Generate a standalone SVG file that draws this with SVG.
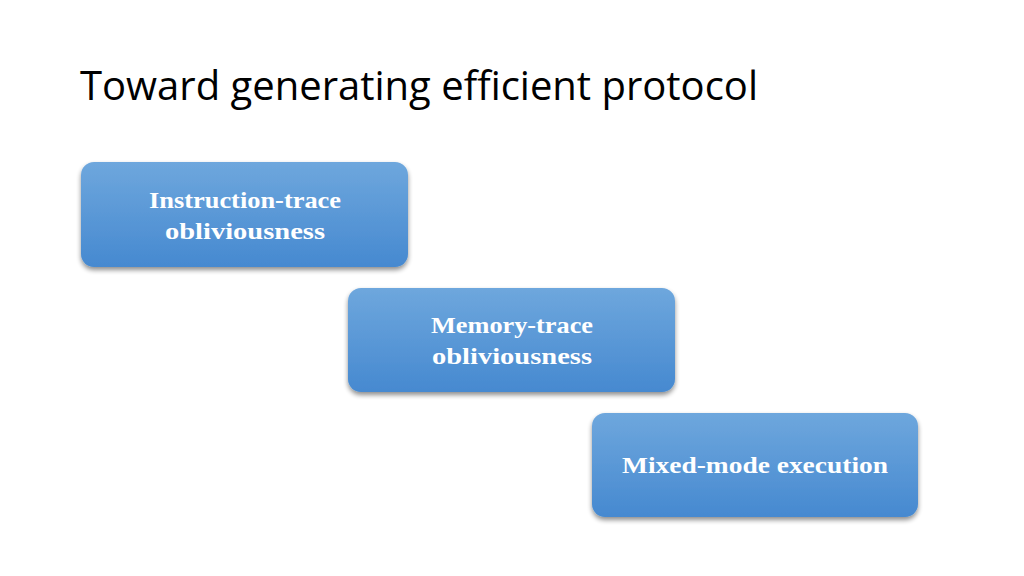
<svg xmlns="http://www.w3.org/2000/svg" width="1024" height="576" viewBox="0 0 1024 576">
<defs>
<linearGradient id="g" x1="0" y1="0" x2="0" y2="1">
<stop offset="0" stop-color="#6ea7dd"/>
<stop offset="1" stop-color="#4689d0"/>
</linearGradient>
<filter id="sh" x="-10%" y="-10%" width="120%" height="130%">
<feGaussianBlur in="SourceAlpha" stdDeviation="2.5"/>
<feOffset dx="0" dy="3" result="b"/>
<feComponentTransfer><feFuncA type="linear" slope="0.45"/></feComponentTransfer>
<feMerge><feMergeNode/><feMergeNode in="SourceGraphic"/></feMerge>
</filter>
</defs>
<style>
.box{fill:url(#g);filter:url(#sh);}
.lbl{font-family:"Liberation Serif","Times New Roman",serif;font-weight:bold;font-size:24px;fill:#ffffff;text-anchor:middle;}
.title{font-family:"Open Sans","Liberation Sans",sans-serif;font-size:40px;fill:#000000;}
</style>
<rect width="1024" height="576" fill="#ffffff"/>
<text class="title" x="80" y="100" textLength="678" lengthAdjust="spacingAndGlyphs">Toward generating efficient protocol</text>
<g id="connectors"></g>
<g id="node1">
<rect class="box" x="81" y="162" width="327" height="105" rx="13"/>
<text class="lbl" x="245" y="208" textLength="192" lengthAdjust="spacingAndGlyphs">Instruction-trace</text>
<text class="lbl" x="245" y="239" textLength="160" lengthAdjust="spacingAndGlyphs">obliviousness</text>
</g>
<g id="node2">
<rect class="box" x="348" y="288" width="327" height="104" rx="13"/>
<text class="lbl" x="512" y="333" textLength="162" lengthAdjust="spacingAndGlyphs">Memory-trace</text>
<text class="lbl" x="512" y="364" textLength="160" lengthAdjust="spacingAndGlyphs">obliviousness</text>
</g>
<g id="node3">
<rect class="box" x="592" y="413" width="326" height="104" rx="13"/>
<text class="lbl" x="755" y="473" textLength="266" lengthAdjust="spacingAndGlyphs">Mixed-mode execution</text>
</g>
</svg>
